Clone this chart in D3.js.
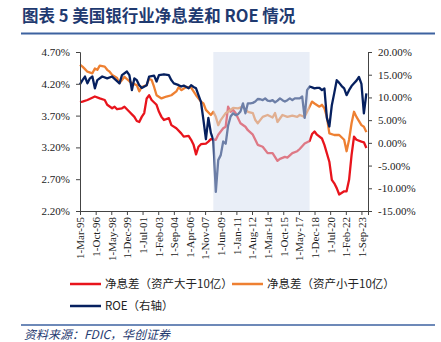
<!DOCTYPE html>
<html><head><meta charset="utf-8">
<script src="https://cdn.jsdelivr.net/npm/d3@7"></script>
<style>
body{margin:0;background:#fff;}
svg{display:block;}
</style></head>
<body>
<svg id="c" width="441" height="342"></svg>
<script>
// ---- data (quarterly) ----
const nimLarge = [
["1995Q1",3.91],["1995Q2",3.92],["1995Q4",3.945],["1996Q3",4.00],["1997Q1",3.97],["1997Q3",3.945],["1997Q4",3.87],
["1998Q2",3.815],["1998Q3",3.84],["1998Q4",3.80],["1999Q2",3.815],["1999Q3",3.84],["2000Q1",3.76],["2000Q3",3.68],
["2000Q4",3.615],["2001Q1",3.60],["2001Q2",3.68],["2001Q3",3.74],["2001Q4",3.97],["2002Q1",4.02],["2002Q2",3.945],
["2002Q4",3.87],["2003Q1",3.76],["2003Q2",3.68],["2003Q3",3.63],["2004Q1",3.66],["2004Q2",3.55],["2004Q4",3.50],
["2005Q2",3.42],["2005Q3",3.37],["2006Q1",3.38],["2006Q2",3.32],["2006Q3",3.24],["2006Q4",3.09],["2007Q1",3.21],
["2007Q2",3.25],["2007Q4",3.26],["2008Q1",3.29],["2008Q2",3.33],["2008Q4",3.32],["2009Q1",3.40],["2009Q3",3.50],
["2009Q4",3.525],["2010Q1",3.84],["2010Q2",3.76],["2010Q3",3.79],["2010Q4",3.74],["2011Q2",3.58],["2011Q4",3.525],
["2012Q1",3.47],["2012Q3",3.40],["2012Q4",3.32],["2013Q1",3.24],["2013Q3",3.21],["2014Q1",3.11],["2014Q3",3.11],
["2015Q1",2.99],["2015Q2",3.02],["2015Q4",3.05],["2016Q1",3.04],["2016Q3",3.11],["2017Q1",3.14],["2017Q2",3.175],
["2017Q4",3.26],["2018Q2",3.30],["2018Q3",3.41],["2018Q4",3.45],["2019Q1",3.40],["2019Q3",3.34],["2019Q4",3.24],
["2020Q2",2.975],["2020Q3",2.69],["2020Q4",2.635],["2021Q1",2.56],["2021Q2",2.46],["2021Q4",2.51],["2022Q1",2.51],
["2022Q2",2.69],["2022Q3",3.08],["2022Q4",3.37],["2023Q1",3.32],["2023Q3",3.29],["2023Q4",3.28],["2024Q1",3.19]
];
const nimSmall = [
["1995Q1",4.50],["1995Q2",4.47],["1995Q3",4.43],["1995Q4",4.39],["1996Q2",4.365],["1996Q3",4.44],["1996Q4",4.42],
["1997Q1",4.485],["1997Q3",4.47],["1997Q4",4.42],["1998Q1",4.39],["1998Q2",4.34],["1998Q4",4.29],["1999Q1",4.21],
["1999Q2",4.26],["1999Q3",4.31],["2000Q1",4.24],["2000Q2",4.21],["2000Q4",4.18],["2001Q1",4.08],["2001Q2",4.15],
["2001Q4",4.18],["2002Q1",4.28],["2002Q2",4.26],["2002Q3",4.15],["2002Q4",4.02],["2003Q2",3.97],["2003Q4",4.00],
["2004Q2",4.02],["2004Q4",4.08],["2005Q1",4.15],["2005Q2",4.10],["2005Q4",4.15],["2006Q2",4.14],["2006Q4",4.02],
["2007Q2",3.92],["2007Q3",3.89],["2007Q4",3.79],["2008Q2",3.71],["2008Q3",3.76],["2008Q4",3.68],["2009Q1",3.55],
["2009Q2",3.63],["2009Q4",3.74],["2010Q1",3.76],["2010Q3",3.82],["2011Q1",3.815],["2011Q3",3.84],["2012Q1",3.76],
["2012Q3",3.74],["2012Q4",3.63],["2013Q1",3.58],["2013Q3",3.68],["2014Q1",3.71],["2014Q3",3.67],["2014Q4",3.74],
["2015Q1",3.60],["2015Q3",3.71],["2016Q1",3.68],["2016Q3",3.70],["2017Q1",3.68],["2017Q2",3.71],["2017Q4",3.68],
["2018Q2",3.84],["2018Q3",3.92],["2018Q4",3.89],["2019Q2",3.84],["2019Q3",3.87],["2019Q4",3.815],["2020Q1",3.68],
["2020Q2",3.42],["2020Q4",3.395],["2021Q2",3.395],["2021Q4",3.32],["2022Q1",3.14],["2022Q2",3.32],["2022Q3",3.58],
["2022Q4",3.76],["2023Q1",3.68],["2023Q3",3.55],["2023Q4",3.525],["2024Q1",3.44]
];
const roe = [
["1995Q1",12.9],["1995Q2",13.8],["1995Q3",14.6],["1995Q4",13.1],["1996Q1",14.2],["1996Q2",14.6],["1996Q3",12.0],
["1996Q4",13.8],["1997Q2",14.6],["1997Q4",14.2],["1998Q2",14.6],["1998Q4",13.6],["1999Q1",13.1],["1999Q2",14.9],
["1999Q4",15.7],["2000Q1",14.9],["2000Q2",11.6],["2000Q3",14.2],["2000Q4",13.8],["2001Q1",12.7],["2001Q2",12.1],
["2001Q4",12.7],["2002Q1",14.6],["2002Q3",14.8],["2002Q4",13.5],["2003Q1",14.9],["2003Q3",15.1],["2004Q1",14.9],
["2004Q2",13.8],["2004Q3",13.1],["2005Q1",12.7],["2005Q2",12.4],["2005Q3",12.6],["2006Q1",12.0],["2006Q2",12.7],
["2006Q3",12.3],["2006Q4",12.0],["2007Q1",10.5],["2007Q2",9.0],["2007Q3",5.0],["2007Q4",0.8],["2008Q1",5.5],
["2008Q2",2.2],["2008Q3",0.6],["2008Q4",-10.8],["2009Q1",-3.8],["2009Q2",-2.7],["2009Q3",0.3],["2009Q4",-0.2],
["2010Q1",3.8],["2010Q2",5.8],["2010Q3",6.5],["2010Q4",6.1],["2011Q1",6.3],["2011Q2",6.9],["2011Q3",8.7],
["2011Q4",6.5],["2012Q1",8.7],["2012Q2",8.7],["2012Q3",8.8],["2012Q4",9.1],["2013Q1",9.65],["2013Q2",9.6],
["2013Q3",9.4],["2013Q4",9.8],["2014Q1",9.3],["2014Q2",9.2],["2014Q3",9.4],["2014Q4",8.9],["2015Q1",9.3],
["2015Q2",9.8],["2015Q3",9.4],["2015Q4",9.1],["2016Q1",9.4],["2016Q2",9.8],["2016Q3",9.4],["2016Q4",9.8],
["2017Q1",9.8],["2017Q2",9.8],["2017Q3",10.2],["2017Q4",5.5],["2018Q1",11.6],["2018Q2",12.4],["2018Q3",12.2],
["2018Q4",12.0],["2019Q1",12.1],["2019Q2",12.1],["2019Q3",11.6],["2019Q4",12.0],["2020Q1",5.5],["2020Q2",3.6],
["2020Q3",8.3],["2020Q4",11.0],["2021Q1",13.8],["2021Q2",13.2],["2021Q3",12.5],["2021Q4",12.0],["2022Q1",10.5],
["2022Q2",11.6],["2022Q3",12.5],["2022Q4",13.1],["2023Q1",13.7],["2023Q2",14.5],["2023Q3",13.0],["2023Q4",6.5],
["2024Q1",10.9]
];
const leftTicks = [2.2, 2.7, 3.2, 3.7, 4.2, 4.7];
const rightTicks = [-15, -10, -5, 0, 5, 10, 15, 20];
const xTickLabels = ["1-Mar-95","1-Oct-96","1-May-98","1-Dec-99","1-Jul-01","1-Feb-03","1-Sep-04","1-Apr-06","1-Nov-07",
"1-Jun-09","1-Jan-11","1-Aug-12","1-Mar-14","1-Oct-15","1-May-17","1-Dec-18","1-Jul-20","1-Feb-22","1-Sep-23"];
const shadedPeriod = ["2008Q3","2018Q2"];
const seriesNames = ["净息差（资产大于10亿）","净息差（资产小于10亿）","ROE（右轴）"];

// ---- helpers ----
const parseQ = s => new Date(+s.slice(0,4), (+s.slice(5)-1)*3 + 2, 1);
const monthNames = {Jan:0,Feb:1,Mar:2,Apr:3,May:4,Jun:5,Jul:6,Aug:7,Sep:8,Oct:9,Nov:10,Dec:11};
const parseTick = s => { const p = s.split("-"); const yy = +p[2]; return new Date((yy>50?1900:2000)+yy, monthNames[p[1]], 1); };

const svg = d3.select("#c");
const L = 80, R = 368, T = 52, B = 211;
const x = d3.scaleTime().domain([new Date(1995,2,1), new Date(2024,4,1)]).range([L, R]);
const yL = d3.scaleLinear().domain([2.2, 4.7]).range([B, T]);
const yR = d3.scaleLinear().domain([-15, 20]).range([B, T]);

// title
svg.append("text").attr("x",22).attr("y",22).attr("font-family","'Noto Sans CJK SC', sans-serif")
  .attr("font-weight","bold").attr("font-size",16.5).attr("fill","#1F3A70")
  .text("图表 5 美国银行业净息差和 ROE 情况");
svg.append("line").attr("x1",21).attr("x2",435).attr("y1",33.5).attr("y2",33.5).attr("stroke","#3D62A0").attr("stroke-width",2);

// lines
const colors = ["#E8141C","#EE8032","#06205F"];
const lineL = d3.line().x(d=>x(parseQ(d[0]))).y(d=>yL(d[1]));
const lineR = d3.line().x(d=>x(parseQ(d[0]))).y(d=>yR(d[1]));
svg.append("path").datum(nimLarge).attr("d",lineL).attr("fill","none").attr("stroke",colors[0]).attr("stroke-width",2.3).attr("stroke-linejoin","round");
svg.append("path").datum(nimSmall).attr("d",lineL).attr("fill","none").attr("stroke",colors[1]).attr("stroke-width",2.3).attr("stroke-linejoin","round");
svg.append("path").datum(roe).attr("d",lineR).attr("fill","none").attr("stroke",colors[2]).attr("stroke-width",2.3).attr("stroke-linejoin","round");

// shaded overlay
svg.append("rect").attr("x",x(parseQ(shadedPeriod[0]))).attr("y",T)
  .attr("width",x(parseQ(shadedPeriod[1]))-x(parseQ(shadedPeriod[0]))).attr("height",B-T)
  .attr("fill","#D3DEF0").attr("fill-opacity",0.5);

// axes
const fontAx = "'Liberation Serif', 'Times New Roman', serif";
const axL = svg.append("g").attr("transform",`translate(${L},0)`)
  .call(d3.axisLeft(yL).tickValues(leftTicks).tickSize(4).tickFormat(d=>d.toFixed(2)+"%"));
const axR = svg.append("g").attr("transform",`translate(${R},0)`)
  .call(d3.axisRight(yR).tickValues(rightTicks).tickSize(4).tickFormat(d=>d.toFixed(2)+"%"));
const axB = svg.append("g").attr("transform",`translate(0,${B})`)
  .call(d3.axisBottom(x).tickValues(xTickLabels.map(parseTick)).tickSize(4).tickFormat((d,i)=>xTickLabels[i]));
[axL,axR,axB].forEach(a=>{
  a.select(".domain").attr("stroke","#444").attr("stroke-width",1);
  a.selectAll(".tick line").attr("stroke","#444");
  a.selectAll("text").attr("font-family",fontAx).attr("font-size",11).attr("fill","#222");
});
axL.selectAll("text").attr("x",-10);
axR.selectAll("text").attr("x",10);
axB.selectAll("text").attr("transform","rotate(-90)").attr("text-anchor","end")
  .attr("x",-6).attr("y",0).attr("dy","0.35em");

// legend
const fontCN = "'Noto Sans CJK SC', sans-serif";
const leg = [[70,284],[232,284],[70,306]];
leg.forEach((p,i)=>{
  svg.append("line").attr("x1",p[0]).attr("x2",p[0]+31).attr("y1",p[1]).attr("y2",p[1]).attr("stroke",colors[i]).attr("stroke-width",2.5);
  svg.append("text").attr("x",p[0]+35).attr("y",p[1]+4).attr("font-family",fontCN).attr("font-size",11.5).attr("fill","#222").text(seriesNames[i]);
});

// bottom rule and source
svg.append("line").attr("x1",21).attr("x2",435).attr("y1",325).attr("y2",325).attr("stroke","#3D62A0").attr("stroke-width",1.5);
svg.append("text").attr("x",24).attr("y",339).attr("font-family",fontCN).attr("font-style","italic").attr("font-size",12).attr("fill","#1F3A70").text("资料来源：FDIC，华创证券");
</script>
</body></html>
